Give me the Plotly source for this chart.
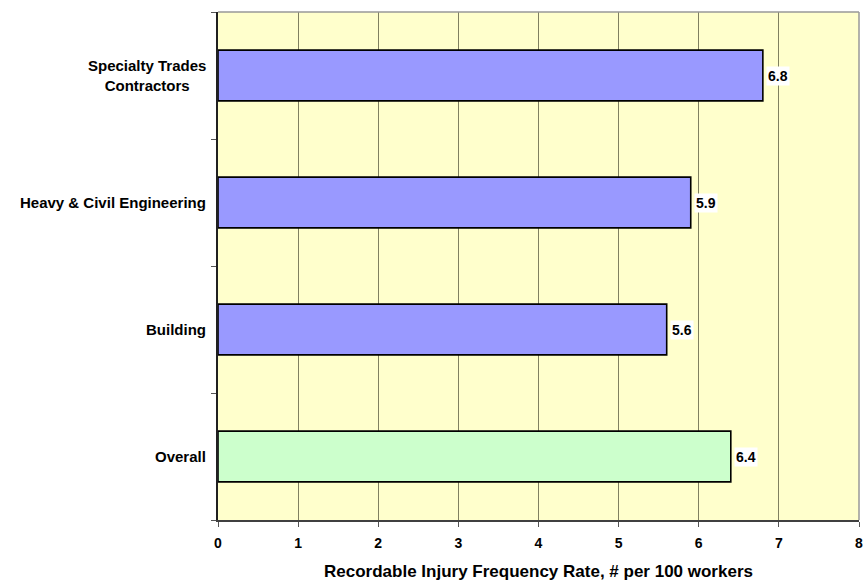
import plotly.graph_objects as go

# Recordable injury rates by construction sector
categories = ["Specialty Trades<br>Contractors", "Heavy & Civil Engineering", "Building", "Overall"]
rates = [6.8, 5.9, 5.6, 6.4]
bar_colors = ["#9999FF", "#9999FF", "#9999FF", "#CCFFCC"]
x_ticks = [0, 1, 2, 3, 4, 5, 6, 7, 8]

font_family = "Liberation Sans, Arial, sans-serif"

fig = go.Figure()
fig.add_trace(go.Bar(
    y=categories,
    x=rates,
    orientation="h",
    width=0.4,
    marker=dict(color=bar_colors, line=dict(color="#000000", width=1.6)),
    hoverinfo="skip",
))

# value labels with white backing, placed at each bar's end
for cat, val in zip(categories, rates):
    fig.add_annotation(
        x=val, y=cat, xref="x", yref="y",
        text=f"<b>{val:.1f}</b>",
        showarrow=False, xanchor="left", xshift=3,
        bgcolor="#FFFFFF", borderpad=1,
        font=dict(family=font_family, size=14, color="#000000"),
    )

# category labels, centred line by line
for cat in categories:
    fig.add_annotation(
        x=0, y=cat, xref="paper", yref="y",
        text=f"<b>{cat}</b>",
        showarrow=False, xanchor="right", xshift=-10, align="center",
        font=dict(family=font_family, size=15, color="#000000"),
    )

fig.update_layout(
    width=867, height=584,
    margin=dict(l=218, r=4, t=12, b=64),
    paper_bgcolor="#FFFFFF",
    plot_bgcolor="#FFFFCC",
    showlegend=False,
    bargap=0.6,
    font=dict(family=font_family, color="#000000"),
    xaxis=dict(
        range=[0, 8],
        tickvals=x_ticks,
        ticktext=[f"<b>{t}</b>" for t in x_ticks],
        tickfont=dict(size=14),
        ticks="outside", ticklen=5, tickcolor="#555555",
        ticklabelstandoff=4, ticklabeloverflow="allow",
        showgrid=True, gridcolor="#808060", gridwidth=1,
        showline=True, linecolor="#404040", linewidth=1.5,
        mirror=False, zeroline=False,
        title=dict(text="<b>Recordable Injury Frequency Rate, # per 100 workers</b>",
                   font=dict(size=17), standoff=16),
        fixedrange=True,
    ),
    yaxis=dict(
        categoryorder="array",
        categoryarray=categories[::-1],
        showticklabels=False,
        ticks="outside", ticklen=5, tickcolor="#555555", tickson="boundaries",
        showgrid=False,
        showline=True, linecolor="#202020", linewidth=2,
        zeroline=False,
        fixedrange=True,
    ),
)

# light gray border on the top and right of the plotting area
fig.add_shape(type="line", xref="paper", yref="paper", x0=0, x1=1, y0=1, y1=1,
              line=dict(color="#999999", width=1.5))
fig.add_shape(type="line", xref="paper", yref="paper", x0=1, x1=1, y0=0, y1=1,
              line=dict(color="#999999", width=1.5))

fig.write_html("out.html")
